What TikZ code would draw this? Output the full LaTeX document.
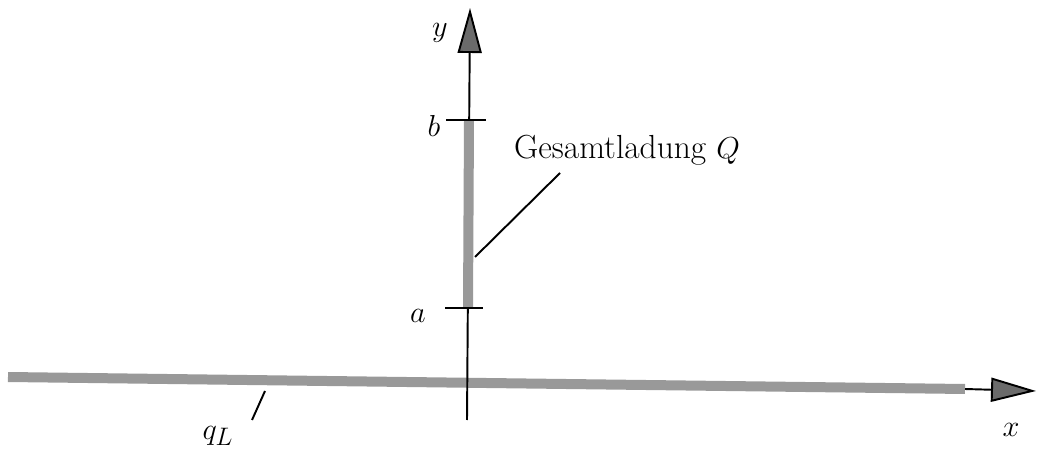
\documentclass[tikz,border=0pt]{standalone}
\usepackage{tikz}
\usetikzlibrary{arrows.meta}
\definecolor{bargray}{gray}{0.6}
\definecolor{tipgray}{gray}{0.42}
\tikzset{
  axis/.style={line width=1.1pt, -{Triangle[length=0.9cm,width=0.48cm,fill=tipgray]}},
  charge/.style={bargray, line width=0.2cm},
  lbl/.style={font=\fontsize{19}{22}\selectfont},
  leader/.style={line width=1.1pt}
}
\begin{document}
\begin{tikzpicture}[x=0.02cm,y=-0.02cm]
  \useasboundingbox (0,0) rectangle (1037,452);
  % axes
  \coordinate (ybot) at (467,420);
  \coordinate (ytop) at (470,8);
  \coordinate (xleft) at (8,377);
  \coordinate (xend) at (965,389);
  \coordinate (xtip) at (1036,391);
  \draw[charge] (xleft) -- (xend);
  \draw[axis] (ybot) -- (ytop);
  \draw[axis] (xend) -- (xtip);
  % line charge on the y axis
  \coordinate (pa) at (468,308);
  \coordinate (pb) at (469,120);
  \draw[charge] (pa) -- (pb);
  \draw[line width=1.4pt] (446,120) -- (486,120);
  \draw[line width=1.4pt] (445,308) -- (483,308);
  % labels
  \node[lbl] (ylab) at (440,33) {$y$};
  \node[lbl] (xlab) at (1011,430) {$x$};
  \node[lbl] (blab) at (434,126) {$b$};
  \node[lbl] (alab) at (418,316) {$a$};
  \node[lbl] (qlab) at (218,436) {$q_L$};
  \node[lbl] (Qlab) at (627,150) {Gesamtladung $Q$};
  \coordinate (qend) at (252,420);
  \coordinate (Qend) at (560,173);
  \draw[leader] (qend) -- (265,391);
  \draw[leader] (Qend) -- (475,257);
\end{tikzpicture}
\end{document}
